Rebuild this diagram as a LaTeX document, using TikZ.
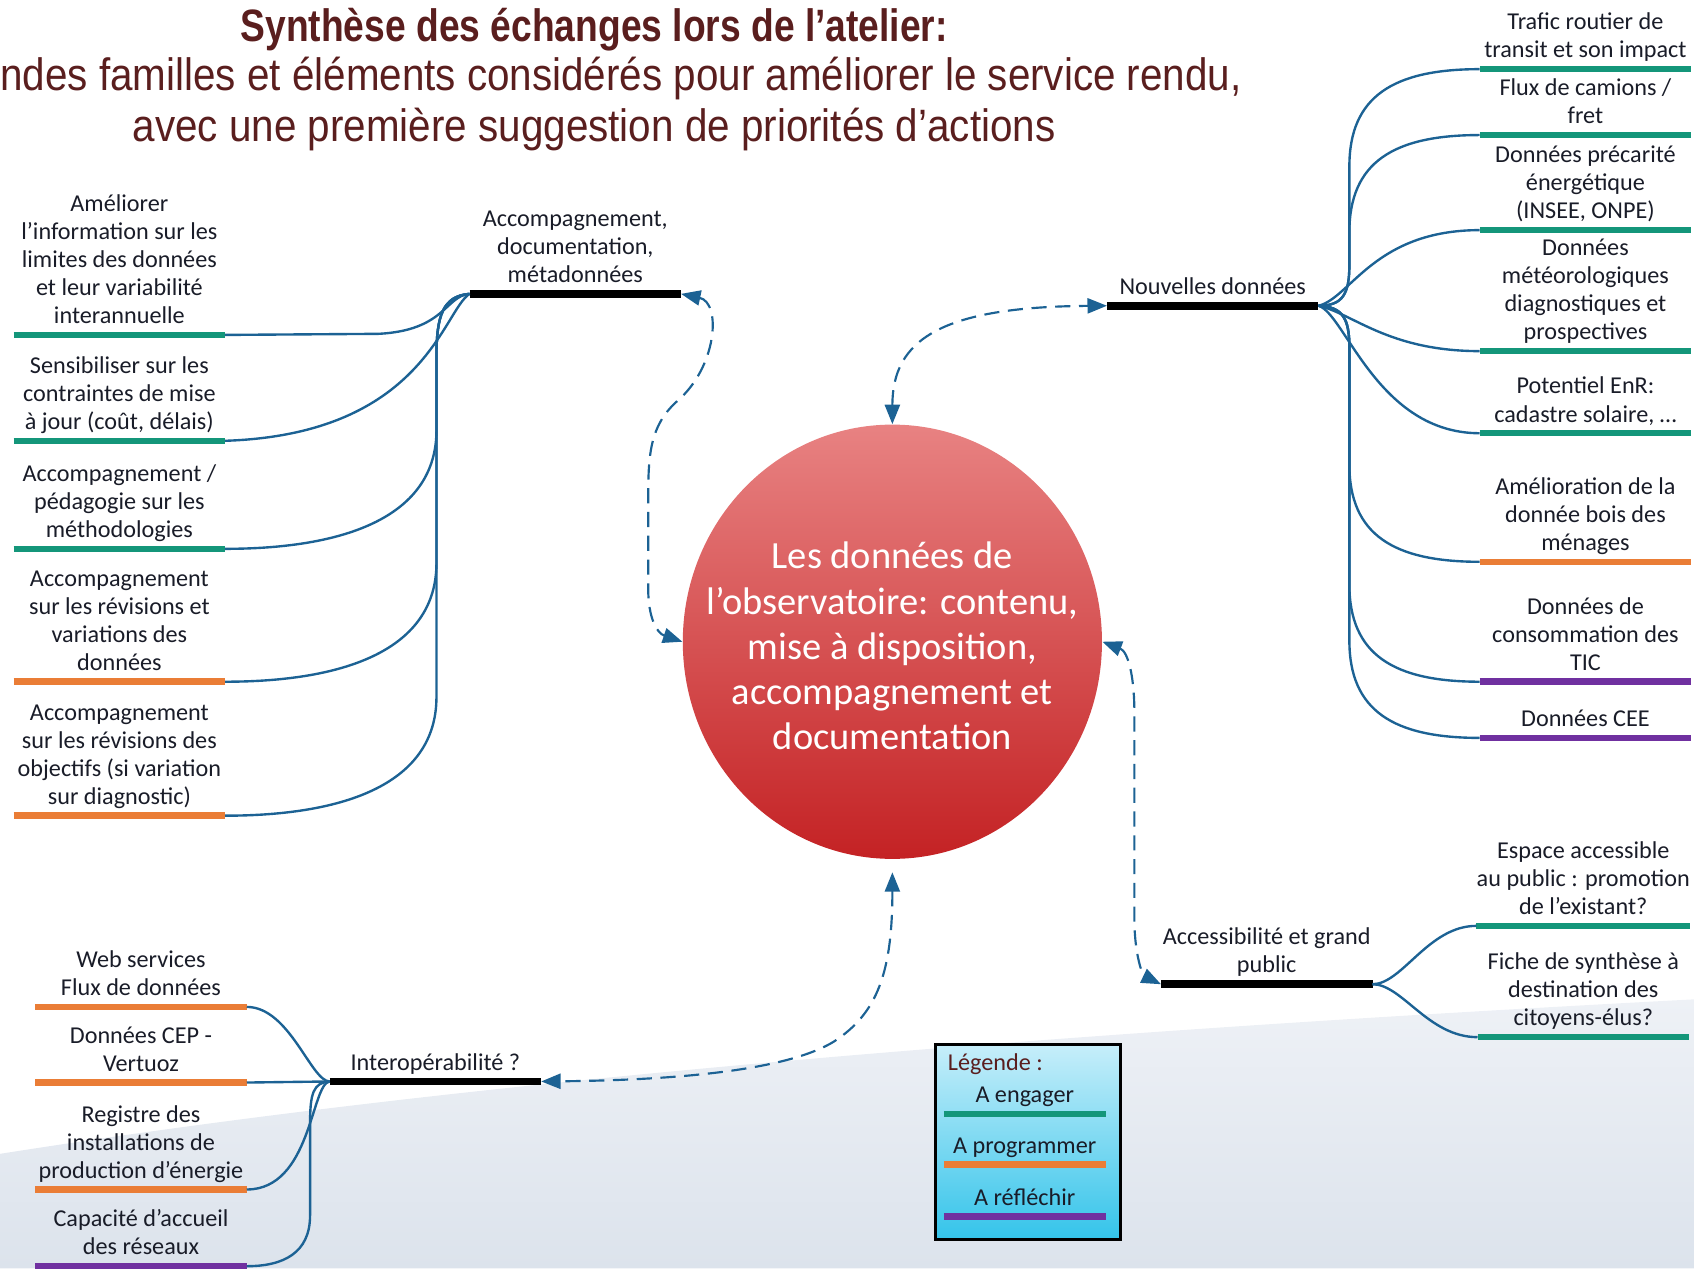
\documentclass[tikz,border=0pt]{standalone}
\usepackage{fontspec}
\setmainfont{Carlito}
\newfontfamily\titlefont[FakeStretch=0.89]{Liberation Sans}
\newfontfamily\titleheadfont[FakeStretch=0.82]{Liberation Sans}
\usepackage{xcolor}
\usepackage{tikz}
\usetikzlibrary{shapes.geometric,arrows.meta,positioning}

\definecolor{engcol}{RGB}{20,150,122}
\definecolor{progcol}{RGB}{234,125,54}
\definecolor{reflcol}{RGB}{112,48,160}
\definecolor{linkblue}{RGB}{28,98,148}
\definecolor{titlecol}{RGB}{90,30,30}
\definecolor{inkcol}{RGB}{25,28,40}
\definecolor{coretop}{RGB}{232,130,130}
\definecolor{corebot}{RGB}{196,34,36}
\definecolor{legtop}{RGB}{198,238,250}
\definecolor{legbot}{RGB}{52,196,234}
\definecolor{bgtop}{RGB}{238,241,246}
\definecolor{bgbot}{RGB}{220,227,236}

\newcommand\leaffont{\fontsize{11.2}{13}\selectfont}
\newcommand\corefont{\fontsize{17.8}{20.9}\selectfont}

\begin{document}
\begin{tikzpicture}[
    x=0.5pt, y=-0.5pt,
    leaf/.style={align=center, anchor=south, minimum width=97.5pt, inner xsep=0pt, inner ysep=2pt, text depth=3pt, font=\leaffont, text=inkcol},
    legitem/.style={leaf, minimum width=74.5pt},
    bar/.style={line width=3pt},
    hubbar/.style={line width=3.5pt, black},
    link/.style={draw=linkblue, line width=1.1pt},
    dashlink/.style={draw=linkblue, line width=1pt, dash pattern=on 7pt off 4pt, {Triangle[length=9pt,width=7pt]}-{Triangle[length=9pt,width=7pt]}},
    core/.style={ellipse, minimum width=194pt, minimum height=201pt, inner sep=0pt, top color=coretop, bottom color=corebot},
    coretext/.style={text=white, align=center, font=\corefont, inner sep=0pt},
    legbox/.style={rectangle, draw=black, line width=1.5pt, minimum width=85.5pt, minimum height=90pt, top color=legtop, bottom color=legbot},
    titleline/.style={inner sep=0pt, text=titlecol}
]
\useasboundingbox (0,0) rectangle (1568,1174);

% background
\shade[top color=bgtop, bottom color=bgbot] (0,1068) .. controls (400,1005) and (900,960) .. (1568,925) -- (1568,1174) -- (0,1174) -- cycle;

% title
\node[titleline, font=\titleheadfont\bfseries\fontsize{21}{23}\selectfont] (tit1) at (550,27) {Synthèse des échanges lors de l’atelier:};
\node[titleline, anchor=west, font=\titlefont\fontsize{21}{23}\selectfont] (tit2) at (0,73) {ndes familles et éléments considérés pour améliorer le service rendu,};
\node[titleline, font=\titlefont\fontsize{21}{23}\selectfont] (tit3) at (550,120) {avec une première suggestion de priorités d’actions};

% centre
\node[core, label={[coretext, yshift=-2pt]center:{Les données de\\l’observatoire: contenu,\\mise à disposition,\\accompagnement et\\documentation}}] (core) at (826,594) {};

% hubs
\node[leaf] (acc) at (532.5,272) {Accompagnement,\\documentation,\\métadonnées};
\node[leaf] (nouv) at (1122.5,283) {Nouvelles données};
\node[leaf] (acces) at (1172.5,911) {Accessibilité et grand\\public};
\node[leaf] (inter) at (403,1001) {Interopérabilité ?};
\draw[hubbar] (acc.south west) -- (acc.south east);
\draw[hubbar] (nouv.south west) -- (nouv.south east);
\draw[hubbar] (acces.south west) -- (acces.south east);
\draw[hubbar] (inter.south west) -- (inter.south east);

% left leaves
\node[leaf] (l1) at (110.5,310) {Améliorer\\l’information sur les\\limites des données\\et leur variabilité\\interannuelle};
\node[leaf] (l2) at (110.5,408) {Sensibiliser sur les\\contraintes de mise\\à jour (coût, délais)};
\node[leaf] (l3) at (110.5,508) {Accompagnement /\\pédagogie sur les\\méthodologies};
\node[leaf] (l4) at (110.5,631) {Accompagnement\\sur les révisions et\\variations des\\données};
\node[leaf] (l5) at (110.5,755) {Accompagnement\\sur les révisions des\\objectifs (si variation\\sur diagnostic)};
\draw[bar, engcol] (l1.south west) -- (l1.south east);
\draw[bar, engcol] (l2.south west) -- (l2.south east);
\draw[bar, engcol] (l3.south west) -- (l3.south east);
\draw[bar, progcol] (l4.south west) -- (l4.south east);
\draw[bar, progcol] (l5.south west) -- (l5.south east);

% right leaves
\node[leaf] (r1) at (1467.5,64) {Trafic routier de\\transit et son impact};
\node[leaf] (r2) at (1467.5,125) {Flux de camions /\\fret};
\node[leaf] (r3) at (1467.5,213) {Données précarité\\énergétique\\(INSEE, ONPE)};
\node[leaf] (r4) at (1467.5,325) {Données\\météorologiques\\diagnostiques et\\prospectives};
\node[leaf] (r5) at (1467.5,401) {Potentiel EnR:\\cadastre solaire, …};
\node[leaf] (r6) at (1467.5,520) {Amélioration de la\\donnée bois des\\ménages};
\node[leaf] (r7) at (1467.5,631) {Données de\\consommation des\\TIC};
\node[leaf] (r8) at (1467.5,683) {Données CEE};
\draw[bar, engcol] (r1.south west) -- (r1.south east);
\draw[bar, engcol] (r2.south west) -- (r2.south east);
\draw[bar, engcol] (r3.south west) -- (r3.south east);
\draw[bar, engcol] (r4.south west) -- (r4.south east);
\draw[bar, engcol] (r5.south west) -- (r5.south east);
\draw[bar, progcol] (r6.south west) -- (r6.south east);
\draw[bar, reflcol] (r7.south west) -- (r7.south east);
\draw[bar, reflcol] (r8.south west) -- (r8.south east);

% bottom right leaves
\node[leaf] (c1) at (1465.5,857) {Espace accessible\\au public : promotion\\de l’existant?};
\node[leaf] (c2) at (1465.5,960) {Fiche de synthèse à\\destination des\\citoyens-élus?};
\draw[bar, engcol] (c1.south west) -- (c1.south east);
\draw[bar, engcol] (c2.south west) -- (c2.south east);

% bottom left leaves
\node[leaf] (b1) at (130.5,932) {Web services\\Flux de données};
\node[leaf] (b2) at (130.5,1002) {Données CEP -\\Vertuoz};
\node[leaf] (b3) at (130.5,1101) {Registre des\\installations de\\production d’énergie};
\node[leaf] (b4) at (130.5,1172) {Capacité d’accueil\\des réseaux};
\draw[bar, progcol] (b1.south west) -- (b1.south east);
\draw[bar, progcol] (b2.south west) -- (b2.south east);
\draw[bar, progcol] (b3.south west) -- (b3.south east);
\draw[bar, reflcol] (b4.south west) -- (b4.south east);

% links to the left leaves
\draw[link] (acc.south west) .. controls (412,274) and (412,306) .. (350,309) -- (l1.south east);
\draw[link] (acc.south west) .. controls (410,288) and (392,402) .. (l2.south east);
\draw[link] (acc.south west) .. controls (410,274) and (404,292) .. (404,330) -- (404,398) .. controls (404,478) and (320,508) .. (l3.south east);
\draw[link] (acc.south west) .. controls (410,274) and (404,292) .. (404,330) -- (404,521) .. controls (404,601) and (320,631) .. (l4.south east);
\draw[link] (acc.south west) .. controls (410,274) and (404,292) .. (404,330) -- (404,645) .. controls (404,725) and (320,755) .. (l5.south east);

% links to the right leaves
\draw[link] (nouv.south east) .. controls (1243,283) and (1249,272) .. (1249,245) -- (1249,154) .. controls (1249,89) and (1290,64) .. (r1.south west);
\draw[link] (nouv.south east) .. controls (1243,283) and (1249,272) .. (1249,245) -- (1249,215) .. controls (1249,150) and (1290,125) .. (r2.south west);
\draw[link] (nouv.south east) .. controls (1250,276) and (1272,213) .. (r3.south west);
\draw[link] (nouv.south east) .. controls (1252,290) and (1285,325) .. (r4.south west);
\draw[link] (nouv.south east) .. controls (1245,290) and (1275,401) .. (r5.south west);
\draw[link] (nouv.south east) .. controls (1243,284) and (1249,295) .. (1249,322) -- (1249,430) .. controls (1249,495) and (1290,520) .. (r6.south west);
\draw[link] (nouv.south east) .. controls (1243,284) and (1249,295) .. (1249,322) -- (1249,541) .. controls (1249,606) and (1290,631) .. (r7.south west);
\draw[link] (nouv.south east) .. controls (1243,284) and (1249,295) .. (1249,322) -- (1249,593) .. controls (1249,658) and (1290,683) .. (r8.south west);

% links to the bottom leaves
\draw[link] (acces.south east) .. controls (1298,911) and (1322,857) .. (c1.south west);
\draw[link] (acces.south east) .. controls (1298,911) and (1322,960) .. (c2.south west);
\draw[link] (inter.south west) .. controls (288,1001) and (268,932) .. (b1.south east);
\draw[link] (inter.south west) -- (b2.south east);
\draw[link] (inter.south west) .. controls (288,1003) and (288,1101) .. (b3.south east);
\draw[link] (inter.south west) .. controls (290,1002) and (287,1012) .. (287,1040) -- (287,1125) .. controls (287,1160) and (262,1172) .. (b4.south east);

% dashed links to the centre
\draw[dashlink] (acc.south east) .. controls (668,280) and (664,340) .. (626,372) .. controls (602,394) and (600,420) .. (600,460) -- (600,545) .. controls (600,572) and (608,586) .. (core.west);
\draw[dashlink] (core.north) .. controls (826,315) and (870,284) .. (nouv.south west);
\draw[dashlink] (core.east) .. controls (1044,603) and (1050,625) .. (1050,660) -- (1050,850) .. controls (1050,885) and (1058,903) .. (acces.south west);
\draw[dashlink, shorten <=6pt] (core.south) .. controls (826,900) and (812,938) .. (772,964) .. controls (725,993) and (610,1000) .. (inter.south east);

% legend
\node[legbox] (leg) at (951.5,1057) {};
\node[anchor=west, inner sep=0pt, font=\leaffont, text=titlecol] (legtitle) at (877,985) {Légende :};
\node[legitem] (eng) at (948.5,1031) {A engager};
\node[legitem] (prog) at (948.5,1078) {A programmer};
\node[legitem] (refl) at (948.5,1126) {A réfléchir};
\draw[bar, engcol] (eng.south west) -- (eng.south east);
\draw[bar, progcol] (prog.south west) -- (prog.south east);
\draw[bar, reflcol] (refl.south west) -- (refl.south east);

\end{tikzpicture}
\end{document}
